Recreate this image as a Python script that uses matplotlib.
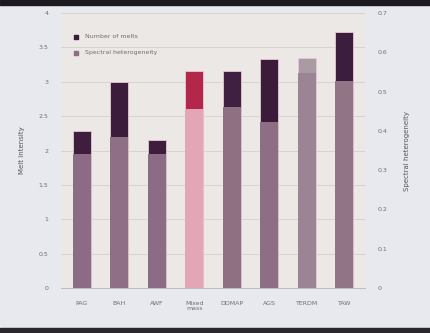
import matplotlib
matplotlib.use("Agg")
import matplotlib.pyplot as plt
from matplotlib.patches import Rectangle

categories = ["PAG", "BAH", "AWF", "Mixed\nmass", "DDMAP", "AGS", "TERDM", "TAW"]
melt_intensity = [2.29, 2.99, 2.16, 3.16, 3.15, 3.33, 3.34, 3.72]          # left axis
spectral_het = [0.340, 0.385, 0.340, 0.455, 0.462, 0.422, 0.548, 0.527]  # right axis
left_ticks = [0, 0.5, 1, 1.5, 2, 2.5, 3, 3.5, 4]
right_ticks = [0, 0.1, 0.2, 0.3, 0.4, 0.5, 0.6, 0.7]

dark_colors = ["#3d1f3d", "#3b1d3b", "#3d1f3d", "#b3274a", "#3f2040", "#3a1c3a", "#a99aa3", "#3b1d3d"]
light_colors = ["#8b6c84", "#8e6f86", "#8b6c84", "#e3a6b6", "#8f7083", "#8d6e84", "#9b8594", "#917486"]

fig = plt.figure(figsize=(4.31, 3.33), dpi=100)
fig.patch.set_facecolor("#e7e9ee")
ax = fig.add_axes([0.1415, 0.135, 0.7055, 0.826])
ax.set_facecolor("#ece8e6")
ax2 = ax.twinx()

x = list(range(len(categories)))
w = 0.48
ax.bar(x, melt_intensity, width=w, color=dark_colors, zorder=2,
       edgecolor="#e6c8d4", linewidth=0.6)
ax2.bar(x, spectral_het, width=w, color=light_colors, zorder=3)

ax.set_xlim(-0.55, 7.55)
ax.set_ylim(0, 4)
ax2.set_ylim(0, 0.7)
ax.set_yticks(left_ticks)
ax.set_yticklabels([f"{t:g}" for t in left_ticks])
ax2.set_yticks(right_ticks)
ax2.set_yticklabels([f"{t:g}" for t in right_ticks])
ax.set_xticks(x)
ax.set_xticklabels(categories)

ax.grid(axis="y", color="#d3cfd0", linewidth=0.6, zorder=0)
ax.set_axisbelow(True)
for a in (ax, ax2):
    for s in a.spines.values():
        s.set_visible(False)
    a.tick_params(length=0, labelsize=4.5, colors="#6e6e74", pad=9)
ax.spines["bottom"].set_visible(True)
ax.spines["bottom"].set_color("#b8b4b6")
ax.spines["bottom"].set_linewidth(0.6)

ax.set_ylabel("Melt intensity", fontsize=5, color="#55555c", labelpad=10)
ax2.set_ylabel("Spectral heterogeneity", fontsize=5, color="#55555c", labelpad=12)

# legend
ax.scatter([0.05], [0.913], transform=ax.transAxes, marker="s", s=6, color="#3b1d3b", zorder=5)
ax.text(0.08, 0.913, "Number of melts", transform=ax.transAxes, fontsize=4.5,
        color="#6e6e74", va="center")
ax.scatter([0.05], [0.855], transform=ax.transAxes, marker="s", s=6, color="#8d6e84", zorder=5)
ax.text(0.08, 0.855, "Spectral heterogeneity", transform=ax.transAxes, fontsize=4.5,
        color="#6e6e74", va="center")

# photo frame bands
fig.patches.append(Rectangle((0, 0.985), 1, 0.015, transform=fig.transFigure,
                             color="#1c1a1e", zorder=10))
fig.patches.append(Rectangle((0, 0), 1, 0.015, transform=fig.transFigure,
                             color="#2a282c", zorder=10))

fig.savefig("out.png", dpi=100, facecolor=fig.get_facecolor())
